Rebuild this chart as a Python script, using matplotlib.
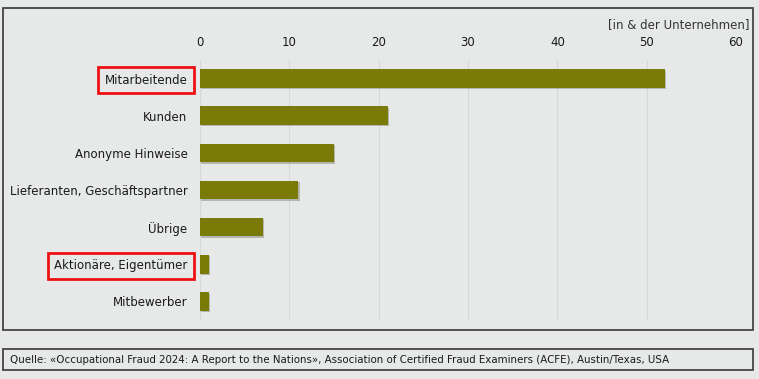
import matplotlib.pyplot as plt
import matplotlib.patches as mpatches
import matplotlib.patheffects as pe

# data
categories = ['Mitarbeitende', 'Kunden', 'Anonyme Hinweise',
              'Lieferanten, Geschäftspartner', 'Übrige',
              'Aktionäre, Eigentümer', 'Mitbewerber']
values = [52, 21, 15, 11, 7, 1, 1]
highlighted = ['Mitarbeitende', 'Aktionäre, Eigentümer']
xticks = [0, 10, 20, 30, 40, 50, 60]
unit_label = '[in & der Unternehmen]'
source = ('Quelle: «Occupational Fraud 2024: A Report to the Nations», '
          'Association of Certified Fraud Examiners (ACFE), Austin/Texas, USA')

bg = '#e6e9e8'
bar_col = '#797a07'
txt = '#1a1a1a'

plt.rcParams['font.family'] = ['DejaVu Sans']

fig = plt.figure(figsize=(7.59, 3.79), dpi=100, facecolor=bg)
W, H = 759, 379

# frames
fig.patches.append(mpatches.Rectangle((3 / W, 1 - 330 / H), 750 / W, 322 / H,
                                      transform=fig.transFigure, fill=False,
                                      edgecolor='#444444', lw=1.3))
fig.patches.append(mpatches.Rectangle((3 / W, 1 - 370 / H), 750 / W, 21 / H,
                                      transform=fig.transFigure, fill=False,
                                      edgecolor='#444444', lw=1.3))

ax = fig.add_axes([200 / W, 1 - 320 / H, 536 / W, 260 / H])
ax.set_facecolor(bg)
ypos = list(range(len(categories)))
bars = ax.barh(ypos, values, height=0.5, color=bar_col, zorder=3)
for b in bars:
    b.set_path_effects([pe.SimplePatchShadow(offset=(1, -1), alpha=0.25),
                        pe.Normal()])

ax.set_xlim(0, 60)
ax.set_ylim(len(categories) - 0.5, -0.5)
ax.xaxis.tick_top()
ax.set_xticks(xticks)
ax.set_xticklabels([str(t) for t in xticks], fontsize=8.5, color=txt)
ax.set_yticks(ypos)
ax.set_yticklabels(categories, fontsize=8.5, color=txt)
ax.tick_params(length=0, pad=9)
ax.tick_params(axis='x', pad=8)
ax.grid(axis='x', color='#d6d9d8', lw=0.8, zorder=0)
for s in ax.spines.values():
    s.set_visible(False)

for lab in ax.get_yticklabels():
    if lab.get_text() in highlighted:
        lab.set_bbox(dict(facecolor='none', edgecolor='#ee1111', lw=2,
                          boxstyle='square,pad=0.55'))

fig.text(750 / W, 1 - 25 / H, unit_label, ha='right', va='center',
         fontsize=8.5, color='#333333')
fig.text(10 / W, 1 - 360 / H, source, ha='left', va='center',
         fontsize=7.35, color=txt)

fig.savefig('out.png', dpi=100, facecolor=bg)
